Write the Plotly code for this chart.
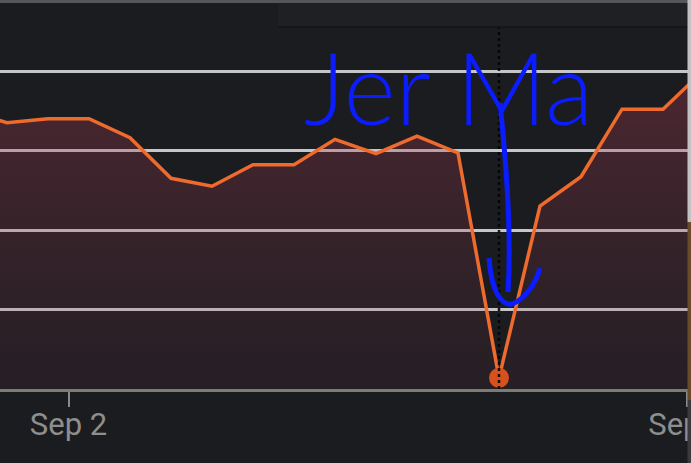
import pandas as pd
import plotly.graph_objects as go

# ---- data ----
START = "2024-08-31 18:00"
STEP_HOURS = 12
VALUES = [3.50, 3.35, 3.40, 3.40, 3.16, 2.65, 2.55, 2.82, 2.82, 3.14,
          2.96, 3.18, 2.97, 0.14, 2.30, 2.67, 3.52, 3.52, 4.01]
TICK_VALS = ["2024-09-02 00:00", "2024-09-09 13:00"]
TICK_TEXT = ["Sep 2", "Sep 9"]
NOTE_TEXT = "Jer Ma"

dates = [pd.Timestamp(START) + pd.Timedelta(hours=STEP_HOURS * i) for i in range(len(VALUES))]
imin = min(range(len(VALUES)), key=lambda i: VALUES[i])

W, H = 691, 463
PLOT_W, PLOT_H = 688, 389
BG = "#1b1c20"

def px(x):  # pixel -> paper x
    return x / PLOT_W

def py(y):  # pixel -> paper y
    return 1 - y / PLOT_H

fig = go.Figure()
fig.add_trace(go.Scatter(
    x=dates, y=VALUES, mode="lines",
    line=dict(color="#ee6b2d", width=3.5),
    fill="tozeroy",
    fillgradient=dict(type="vertical",
                      colorscale=[[0, "rgba(130,55,75,0.10)"], [1, "rgba(175,60,82,0.34)"]],
                      start=0, stop=max(VALUES)),
    hoverinfo="skip", showlegend=False,
))
fig.add_trace(go.Scatter(
    x=[dates[imin]], y=[VALUES[imin]], mode="markers",
    marker=dict(color="#d6511c", size=20, line=dict(width=0)),
    hoverinfo="skip", showlegend=False,
))

t0 = pd.Timestamp(START)
x_lo = t0 + pd.Timedelta(hours=STEP_HOURS * 0.829)
x_hi = t0 + pd.Timedelta(hours=STEP_HOURS * 17.61)

shapes = [
    # hover spike line
    dict(type="line", xref="x", yref="paper", x0=dates[imin], x1=dates[imin],
         y0=0, y1=py(28), line=dict(color="rgba(5,5,8,0.9)", width=2.5, dash="dot"), layer="above"),
    # tooltip box at top
    dict(type="rect", xref="paper", yref="paper", x0=px(278), x1=1.01, y0=py(27), y1=py(3),
         fillcolor="#1f2024", line=dict(width=0), layer="above"),
    dict(type="line", xref="paper", yref="paper", x0=px(278), x1=1.01, y0=py(27), y1=py(27),
         line=dict(color="#141518", width=2), layer="above"),
    # top grey bar
    dict(type="rect", xref="paper", yref="paper", x0=0, x1=1.01, y0=py(3), y1=1,
         fillcolor="#55565a", line=dict(width=0), layer="above"),
    # right window edge
    dict(type="rect", xref="paper", yref="paper", x0=px(687.5), x1=px(692), y0=py(222), y1=1,
         fillcolor="#c2c2c2", line=dict(width=0), layer="above"),
    dict(type="rect", xref="paper", yref="paper", x0=px(687.5), x1=px(692), y0=py(400), y1=py(222),
         fillcolor="#6a4a2c", line=dict(width=0), layer="above"),
    dict(type="rect", xref="paper", yref="paper", x0=px(687.5), x1=px(692), y0=py(463), y1=py(400),
         fillcolor="#3a3a3e", line=dict(width=0), layer="above"),
]

# handwritten arrow (blue)
arrow = "M {},{} C {},{} {},{} {},{}".format(
    px(500), py(103), px(506), py(160), px(512), py(230), px(508), py(292))
head = "M {},{} C {},{} {},{} {},{} C {},{} {},{} {},{}".format(
    px(489), py(258), px(491), py(288), px(500), py(306), px(512), py(304),
    px(523), py(300), px(535), py(286), px(540), py(268))
for p in (arrow, head):
    shapes.append(dict(type="path", xref="paper", yref="paper", path=p,
                       line=dict(color="#0b1cff", width=5), layer="above"))

fig.update_layout(
    width=W, height=H,
    margin=dict(l=0, r=W - PLOT_W, t=0, b=H - PLOT_H, autoexpand=False),
    paper_bgcolor=BG, plot_bgcolor=BG,
    font=dict(family="Roboto", color="#8e8e8e"),
    shapes=shapes,
    annotations=[dict(
        text=NOTE_TEXT, xref="paper", yref="paper", x=px(448), y=py(86),
        xanchor="center", yanchor="middle", showarrow=False,
        font=dict(family="Lato", size=100, color="#0b1cff", weight=300),
    )],
    xaxis=dict(
        range=[x_lo, x_hi], type="date", automargin=False,
        tickvals=TICK_VALS, ticktext=TICK_TEXT,
        tickfont=dict(size=31, color="#8e8e8e", family="Roboto"),
        ticks="outside", ticklen=15, tickwidth=2, tickcolor="#8a8a8a",
        ticklabeloverflow="allow", ticklabelstandoff=-9,
        showgrid=False, zeroline=False,
        showline=True, linecolor="#7e7a74", linewidth=3,
    ),
    yaxis=dict(
        range=[0, PLOT_H / 79.5], dtick=1, tick0=0, automargin=False,
        showticklabels=False, ticks="",
        showgrid=True, gridcolor="#c6c6c6", gridwidth=2.5,
        zeroline=False, showline=False,
    ),
)

fig.write_html("out.html", config={"displayModeBar": False},
               post_script="document.body.style.margin='0px';")
